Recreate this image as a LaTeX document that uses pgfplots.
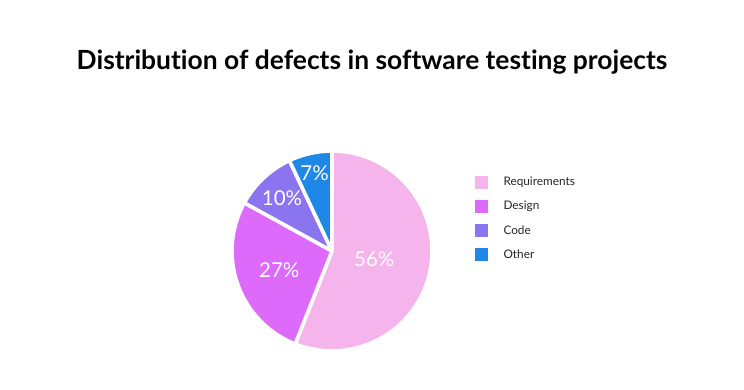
\documentclass[border=0pt]{standalone}
\usepackage{pgfplots}
\usepackage{pgfplotstable}
\pgfplotsset{compat=1.18}
\usetikzlibrary{calc}
\usepackage{fontspec}
\setmainfont{Lato}[Ligatures=NoCommon]
\definecolor{cReq}{RGB}{245,181,236}
\definecolor{cDes}{RGB}{221,106,250}
\definecolor{cCode}{RGB}{139,116,240}
\definecolor{cOther}{RGB}{31,136,230}
\pgfplotstableread{
label value color lr
Requirements 56 cReq 43
Design 27 cDes 56
Code 10 cCode 73
Other 7 cOther 80
}\piedata
\begin{document}
\begin{tikzpicture}
% cumulative angles (clockwise from top)
\xdef\cum{90}
\foreach \i in {0,...,3}{
  \pgfplotstablegetelem{\i}{value}\of\piedata
  \pgfmathsetmacro\sa{\cum}
  \pgfmathsetmacro\ea{\cum-3.6*\pgfplotsretval}
  \pgfmathsetmacro\ma{(\sa+\ea)/2}
  \expandafter\xdef\csname sa\i\endcsname{\sa}
  \expandafter\xdef\csname ea\i\endcsname{\ea}
  \expandafter\xdef\csname ma\i\endcsname{\ma}
  \expandafter\xdef\csname val\i\endcsname{\pgfplotsretval}
  \pgfplotstablegetelem{\i}{color}\of\piedata
  \expandafter\xdef\csname col\i\endcsname{\pgfplotsretval}
  \pgfplotstablegetelem{\i}{label}\of\piedata
  \expandafter\xdef\csname lab\i\endcsname{\pgfplotsretval}
  \pgfplotstablegetelem{\i}{lr}\of\piedata
  \expandafter\xdef\csname lr\i\endcsname{\pgfplotsretval}
  \xdef\cum{\ea}
}
\begin{axis}[
  x=1pt, y=1pt,
  xmin=0, xmax=744, ymin=0, ymax=389,
  hide axis, clip=false,
]
\path (axis cs:0,0) rectangle (axis cs:744,389);
\pgfplotsinvokeforeach{0,...,3}{
  \fill[\csname col#1\endcsname, draw=white, line width=3.6pt, line join=round]
    (axis cs:332,138) -- ++(\csname sa#1\endcsname:100pt)
    arc[start angle=\csname sa#1\endcsname, end angle=\csname ea#1\endcsname, radius=100pt] -- cycle;
}
\pgfplotsinvokeforeach{0,...,3}{
  \node[text=white, font=\fontsize{20.5}{22}\selectfont]
    at ($(axis cs:332,138)+(\csname ma#1\endcsname:\csname lr#1\endcsname pt)$)
    {\csname val#1\endcsname\%};
  \fill[\csname col#1\endcsname] (axis cs:475,{389-176-24*#1}) rectangle (axis cs:488,{389-189-24*#1});
  \node[anchor=west, font=\fontsize{11.8}{14}\selectfont, text=black!85]
    at (axis cs:500,{389-182.5-24*#1}) {\csname lab#1\endcsname};
}
\node[font=\bfseries\fontsize{26.4}{30}\selectfont] at (axis cs:372,{389-62}) {Distribution of defects in software testing projects};
\end{axis}
\end{tikzpicture}
\end{document}
